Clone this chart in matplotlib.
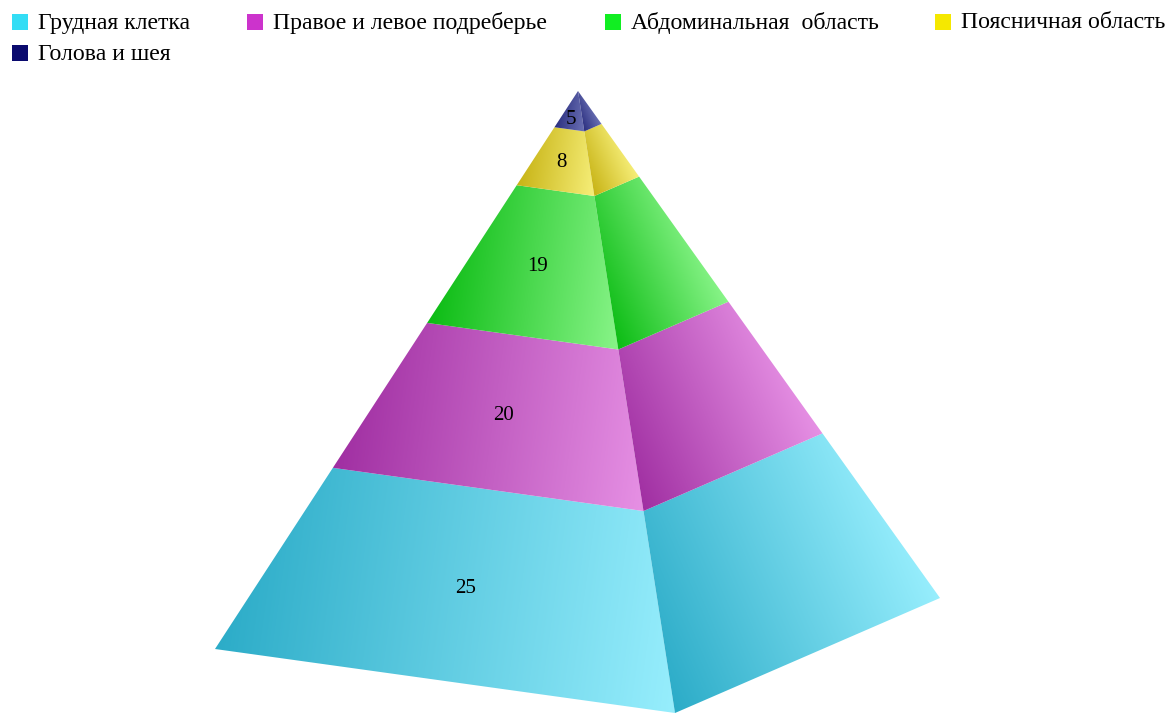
import numpy as np
import matplotlib
matplotlib.use("Agg")
import matplotlib.pyplot as plt
from matplotlib.colors import LinearSegmentedColormap
from matplotlib.patches import Polygon, Rectangle

# bottom to top, as stacked in the pyramid
categories = ["Грудная клетка", "Правое и левое подреберье", "Абдоминальная  область",
              "Поясничная область", "Голова и шея"]
values = [25, 20, 19, 8, 5]
legend_colors = ["#33ddf5", "#cc33cc", "#11ee22", "#f5e800", "#0a0a6e"]
dark_colors = ["#2cacc8", "#a02fa2", "#0cbc14", "#c8b416", "#2c3080"]
light_colors = ["#97eefd", "#e690e4", "#88f488", "#f6ee78", "#6a70b4"]

# pixel position of the pyramid corners
apex = np.array([578.0, 91.0])
base_left = np.array([215.0, 649.0])
base_front = np.array([675.0, 713.0])
base_right = np.array([940.0, 598.0])

legend_x = [12, 247, 605, 935, 12]
legend_y = [14, 14, 14, 14, 45]

plt.rcParams["font.family"] = ["Liberation Serif", "DejaVu Serif"]

fig = plt.figure(figsize=(11.74, 7.13), dpi=100)
ax = fig.add_axes([0, 0, 1, 1])
ax.set_xlim(0, 1174)
ax.set_ylim(713, 0)
ax.axis("off")


def corner(p, frac):
    return p + (apex - p) * frac


def fill_face(pts, start, end, c0, c1):
    # linear gradient from start to end, clipped to the face
    x0, y0 = np.floor(pts.min(axis=0)) - 1
    x1, y1 = np.ceil(pts.max(axis=0)) + 1
    xx, yy = np.meshgrid(np.arange(x0, x1 + 1), np.arange(y0, y1 + 1))
    d = end - start
    t = ((xx - start[0]) * d[0] + (yy - start[1]) * d[1]) / (d @ d)
    cmap = LinearSegmentedColormap.from_list("f", [c0, c1])
    im = ax.imshow(t, cmap=cmap, vmin=0, vmax=1, extent=(x0, x1, y1, y0),
                   interpolation="bilinear", aspect="auto", zorder=2)
    poly = Polygon(pts, closed=True, transform=ax.transData, fc="none", ec="none")
    ax.add_patch(poly)
    im.set_clip_path(poly)


fracs = np.concatenate([[0], np.cumsum(values) / np.sum(values)])
for i, val in enumerate(values):
    f0, f1 = fracs[i], fracs[i + 1]
    bl, bf, br = corner(base_left, f0), corner(base_front, f0), corner(base_right, f0)
    tl, tf, tr = corner(base_left, f1), corner(base_front, f1), corner(base_right, f1)
    left_face = np.array([bl, bf, tf, tl])
    right_face = np.array([bf, br, tr, tf])
    fill_face(left_face, bl, bf, dark_colors[i], light_colors[i])
    fill_face(right_face, bf, br, dark_colors[i], light_colors[i])
    # label sits in the middle of the left face
    if i == len(values) - 1:
        cx, cy = left_face[:3].mean(axis=0)
    else:
        cx, cy = left_face.mean(axis=0)
    ax.text(cx - 1.5, cy + 3, str(val), ha="center", va="center", fontsize=15, color="black", zorder=3)

for name, col, x, y in zip(categories, legend_colors, legend_x, legend_y):
    ax.add_patch(Rectangle((x, y), 16, 16, fc=col, ec="none", zorder=3))
    ax.text(x + 26, y + 9, name, ha="left", va="center", fontsize=17.1, color="black", zorder=3)

ax.set_xlim(0, 1174)
ax.set_ylim(713, 0)
fig.savefig("out.png", dpi=100)
